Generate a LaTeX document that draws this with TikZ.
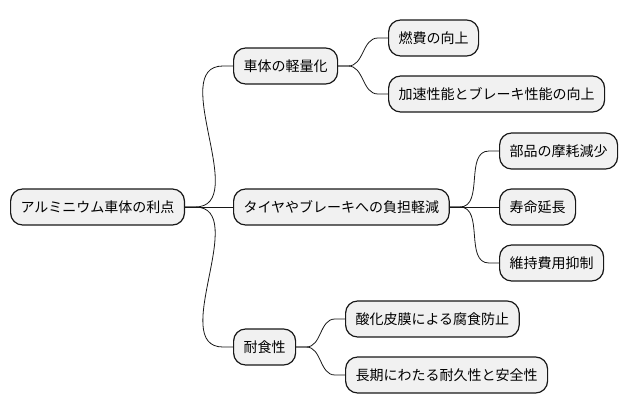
\documentclass[tikz,border=0pt]{standalone}
\usepackage{fontspec}
\setmainfont{Noto Sans CJK JP}
\definecolor{boxfill}{HTML}{F1F1F1}
\definecolor{linecol}{HTML}{181818}

\begin{document}
\begin{tikzpicture}[x=1pt,y=-1pt,
    topic/.style={draw=linecol,line width=1.2pt,fill=boxfill,rounded corners=12pt,
      inner xsep=10pt,minimum height=36pt,anchor=west,font=\fontsize{14}{16}\selectfont},
    link/.style={draw=linecol,line width=0.8pt}]
  \useasboundingbox (0,0) rectangle (628,415);
  % root and first level
  \node[topic] (root) at (10,207) {アルミニウム車体の利点};
  \node[topic] (light) at (233,66) {車体の軽量化};
  \node[topic] (load) at (233,207) {タイヤやブレーキへの負担軽減};
  \node[topic] (rust) at (233,347) {耐食性};
  % second level
  \node[topic] (fuel) at (388,38) {燃費の向上};
  \node[topic] (accel) at (388,94) {加速性能とブレーキ性能の向上};
  \node[topic] (wear) at (499,151) {部品の摩耗減少};
  \node[topic] (life) at (499,207) {寿命延長};
  \node[topic] (cost) at (499,263) {維持費用抑制};
  \node[topic] (film) at (345,319) {酸化皮膜による腐食防止};
  \node[topic] (safe) at (345,375) {長期にわたる耐久性と安全性};
  % branches
  \draw[link] (root.east) -- ++(10,0) to[out=0,in=180] ([xshift=-10pt]light.west) -- (light.west);
  \draw[link] (root.east) -- (load.west);
  \draw[link] (root.east) -- ++(10,0) to[out=0,in=180] ([xshift=-10pt]rust.west) -- (rust.west);
  \draw[link] (light.east) -- ++(10,0) to[out=0,in=180] ([xshift=-10pt]fuel.west) -- (fuel.west);
  \draw[link] (light.east) -- ++(10,0) to[out=0,in=180] ([xshift=-10pt]accel.west) -- (accel.west);
  \draw[link] (load.east) -- ++(10,0) to[out=0,in=180] ([xshift=-10pt]wear.west) -- (wear.west);
  \draw[link] (load.east) -- (life.west);
  \draw[link] (load.east) -- ++(10,0) to[out=0,in=180] ([xshift=-10pt]cost.west) -- (cost.west);
  \draw[link] (rust.east) -- ++(10,0) to[out=0,in=180] ([xshift=-10pt]film.west) -- (film.west);
  \draw[link] (rust.east) -- ++(10,0) to[out=0,in=180] ([xshift=-10pt]safe.west) -- (safe.west);
\end{tikzpicture}
\end{document}
